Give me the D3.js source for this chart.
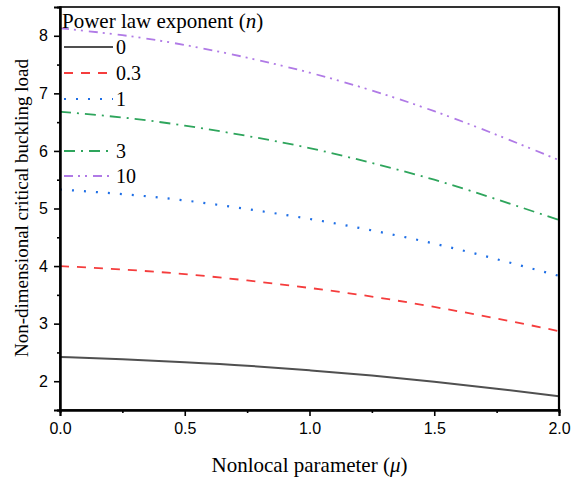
<!DOCTYPE html>
<html><head><meta charset="utf-8">
<script src="https://cdn.jsdelivr.net/npm/d3@7"></script>
<style>body{margin:0;background:#fff}svg{display:block}</style>
</head><body>
<script>
const mu = [0, 0.25, 0.5, 0.75, 1.0, 1.25, 1.5, 1.75, 2.0];
const n0   = [2.42, 2.38, 2.33, 2.27, 2.19, 2.10, 1.99, 1.87, 1.74];
const n03  = [4.00, 3.94, 3.86, 3.75, 3.62, 3.47, 3.29, 3.09, 2.87];
const n1   = [5.33, 5.25, 5.14, 4.99, 4.82, 4.62, 4.39, 4.12, 3.83];
const n3   = [6.68, 6.58, 6.44, 6.26, 6.05, 5.79, 5.50, 5.16, 4.80];
const n10  = [8.13, 8.01, 7.84, 7.62, 7.36, 7.05, 6.69, 6.28, 5.84];
const seriesLabels = ["0", "0.3", "1", "3", "10"];
const xTicks = [0, 0.5, 1.0, 1.5, 2.0];
const yTicks = [2, 3, 4, 5, 6, 7, 8];

const series = [
  {label: seriesLabels[0], values: n0,  color: "#505050", dash: null, w: 2},
  {label: seriesLabels[1], values: n03, color: "#f53d3d", dash: "9,8", w: 1.8},
  {label: seriesLabels[2], values: n1,  color: "#1f6fe6", dash: "2,10", w: 2.2},
  {label: seriesLabels[3], values: n3,  color: "#2ea55c", dash: "11,6,2,6", w: 1.8},
  {label: seriesLabels[4], values: n10, color: "#b07ae6", dash: "9,5,2,5,2,6", w: 1.8}
];
const legendRowY = [47, 73, 99, 151, 176];

const W = 578, H = 481;
const m = {l: 60, r: 559, t: 7, b: 410};
const svg = d3.select("body").append("svg").attr("width", W).attr("height", H);

const x = d3.scaleLinear().domain([0, 2]).range([m.l, m.r]);
const y = d3.scaleLinear().domain([1.5, 8.5]).range([m.b, m.t]);

// lines
const line = d3.line().x((d, i) => x(mu[i])).y(d => y(d)).curve(d3.curveNatural);
svg.append("clipPath").attr("id", "c").append("rect")
  .attr("x", m.l).attr("y", m.t).attr("width", m.r - m.l).attr("height", m.b - m.t);
const g = svg.append("g").attr("clip-path", "url(#c)");
series.forEach(s => {
  g.append("path").datum(s.values).attr("d", line)
    .attr("fill", "none").attr("stroke", s.color).attr("stroke-width", s.w)
    .attr("stroke-dasharray", s.dash);
});

// frame
svg.append("rect").attr("x", m.l).attr("y", m.t).attr("width", m.r - m.l).attr("height", m.b - m.t)
  .attr("fill", "none").attr("stroke", "#000").attr("stroke-width", 1.6);
svg.append("line").attr("x1", m.r).attr("x2", m.r).attr("y1", m.t).attr("y2", m.b)
  .attr("stroke", "#000").attr("stroke-width", 2.2);

// axes
const tickFont = "'Liberation Sans', Arial, sans-serif";
const xAxis = d3.axisBottom(x).tickValues(xTicks).tickFormat(d3.format(".1f")).tickSize(6).tickPadding(7);
const xMinor = d3.axisBottom(x).tickValues([0.25, 0.75, 1.25, 1.75]).tickFormat("").tickSize(3);
const yAxis = d3.axisLeft(y).tickValues(yTicks).tickFormat(d3.format("d")).tickSize(6).tickPadding(6);
const yMinor = d3.axisLeft(y).tickValues([1.5, 2.5, 3.5, 4.5, 5.5, 6.5, 7.5]).tickFormat("").tickSize(3);

function style(sel) {
  sel.select(".domain").attr("stroke", "#000").attr("stroke-width", 2);
  sel.selectAll(".tick line").attr("stroke", "#000").attr("stroke-width", 1.6);
  sel.selectAll(".tick text").attr("font-family", tickFont).attr("font-size", 16).attr("fill", "#000");
}
svg.append("g").attr("transform", `translate(0,${m.b})`).call(xAxis).call(style);
svg.append("g").attr("transform", `translate(0,${m.b})`).call(xMinor).call(style);
svg.append("g").attr("transform", `translate(${m.l},0)`).call(yAxis).call(style);
svg.append("g").attr("transform", `translate(${m.l},0)`).call(yMinor).call(style);

const serif = "'Liberation Serif', 'Times New Roman', serif";
// axis titles
const xt = svg.append("text").attr("x", (m.l + m.r) / 2).attr("y", 472).attr("text-anchor", "middle")
  .attr("font-family", serif).attr("font-size", 21).attr("fill", "#000");
xt.append("tspan").text("Nonlocal parameter (");
xt.append("tspan").attr("font-style", "italic").text("μ");
xt.append("tspan").text(")");

svg.append("text").attr("transform", `translate(28,208) rotate(-90)`)
  .attr("text-anchor", "middle").attr("font-family", serif).attr("font-size", 19).attr("fill", "#000")
  .text("Non-dimensional critical buckling load");

// legend
const lt = svg.append("text").attr("x", 62).attr("y", 28).attr("font-family", serif)
  .attr("font-size", 21).attr("fill", "#000");
lt.append("tspan").text("Power law exponent (");
lt.append("tspan").attr("font-style", "italic").text("n");
lt.append("tspan").text(")");

series.forEach((s, i) => {
  const yy = legendRowY[i];
  svg.append("line").attr("x1", 64).attr("x2", 113).attr("y1", yy).attr("y2", yy)
    .attr("stroke", s.color).attr("stroke-width", s.w).attr("stroke-dasharray", s.dash);
  svg.append("text").attr("x", 116).attr("y", yy + 7).attr("font-family", serif)
    .attr("font-size", 20).attr("fill", "#000").text(s.label);
});
</script>
</body></html>
